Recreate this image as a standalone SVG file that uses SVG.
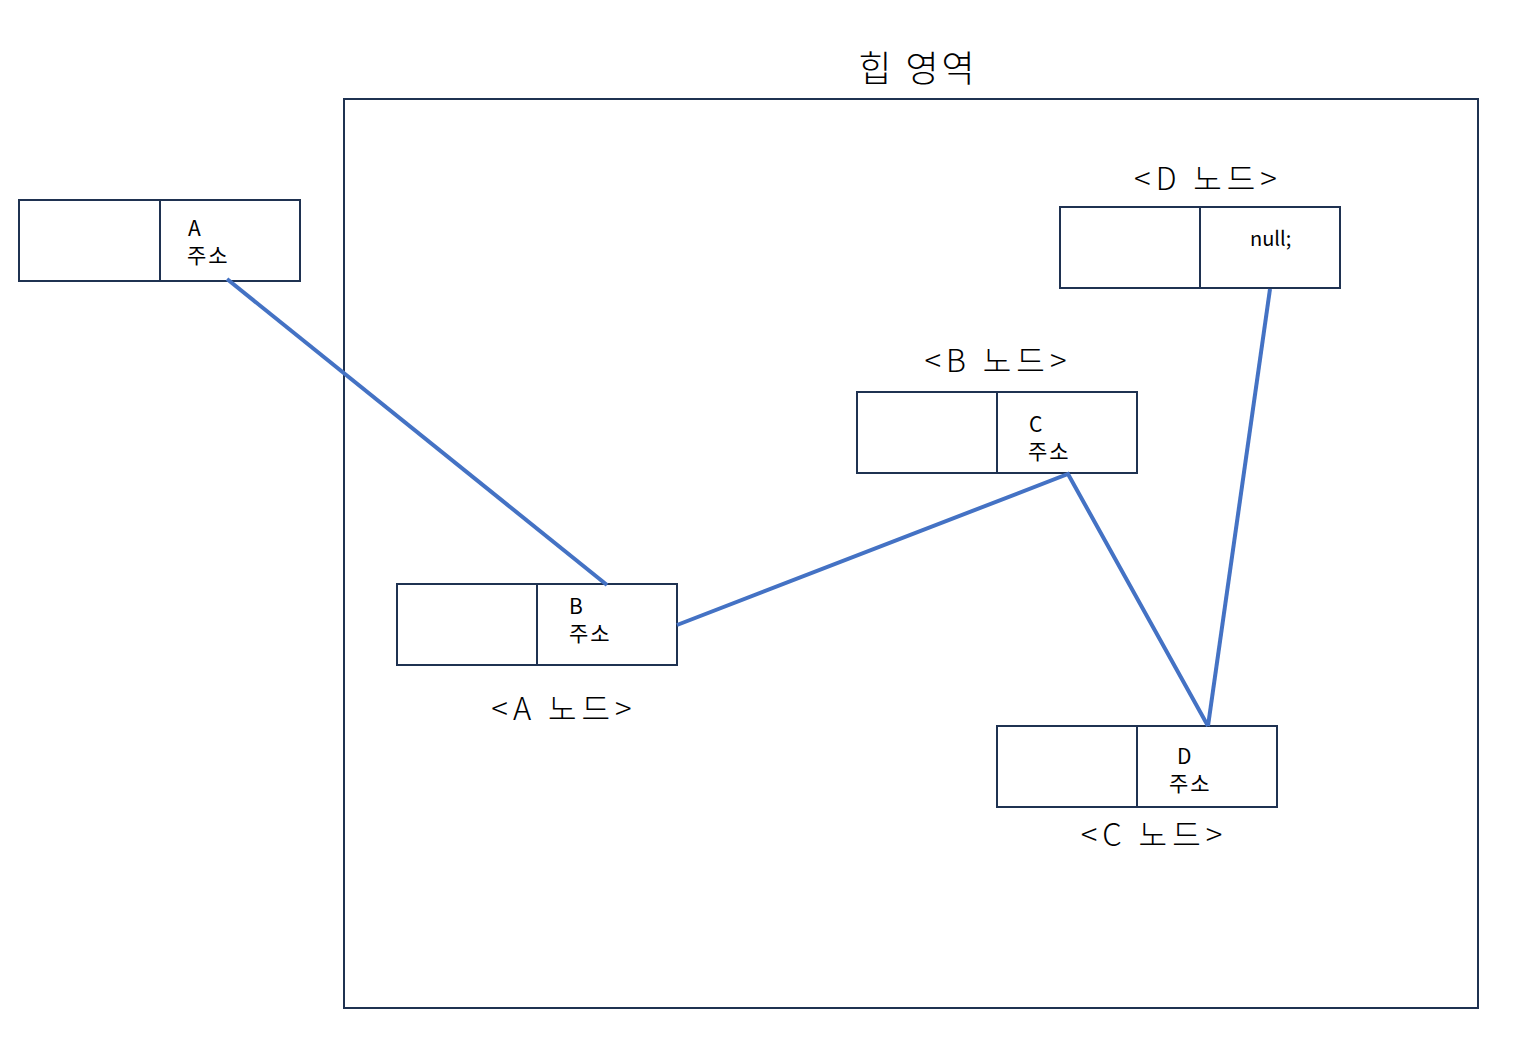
<svg xmlns="http://www.w3.org/2000/svg" width="1515" height="1043" viewBox="0 0 1515 1043">
<style>
.box{fill:#fff;stroke:#1f3251;stroke-width:2}
.div{stroke:#1f3251;stroke-width:2}
.t{font-family:"Noto Sans CJK KR","Noto Sans",sans-serif;font-size:21px;letter-spacing:2px;fill:#000}
.lbl{font-family:"Noto Sans CJK KR","Noto Sans",sans-serif;font-size:31px;letter-spacing:5px;fill:#000;text-anchor:middle;font-weight:300}
.c{stroke:#4472c4;stroke-width:4;fill:none}
</style>
<rect width="1515" height="1043" fill="#fff"/>
<g id="heap">
<rect x="344" y="99" width="1134" height="909" fill="none" stroke="#1f3251" stroke-width="2"/>
<text x="918" y="82" font-family="'Noto Sans CJK KR',sans-serif" font-size="36" font-weight="300" letter-spacing="3" text-anchor="middle" fill="#000">힙 영역</text>
</g>
<g id="ext">
<rect class="box" x="19" y="200" width="281" height="81"/>
<line class="div" x1="160" y1="200" x2="160" y2="281"/>
<text class="t" x="188" y="236">A</text>
<text class="t" x="187" y="263">주소</text>
</g>
<g id="nodeD">
<text class="lbl" x="1208" y="190">&lt;D 노드&gt;</text>
<rect class="box" x="1060" y="207" width="280" height="81"/>
<line class="div" x1="1200" y1="207" x2="1200" y2="288"/>
<text x="1250" y="246" font-family="'Noto Sans CJK KR',sans-serif" font-size="20" fill="#000">null;</text>
</g>
<g id="nodeB">
<text class="lbl" x="998" y="372">&lt;B 노드&gt;</text>
<rect class="box" x="857" y="392" width="280" height="81"/>
<line class="div" x1="997" y1="392" x2="997" y2="473"/>
<text class="t" x="1029" y="432">C</text>
<text class="t" x="1028" y="459">주소</text>
</g>
<g id="nodeA">
<rect class="box" x="397" y="584" width="280" height="81"/>
<line class="div" x1="537" y1="584" x2="537" y2="665"/>
<text class="t" x="569" y="614">B</text>
<text class="t" x="569" y="641">주소</text>
<text class="lbl" x="564" y="720">&lt;A 노드&gt;</text>
</g>
<g id="nodeC">
<rect class="box" x="997" y="726" width="280" height="81"/>
<line class="div" x1="1137" y1="726" x2="1137" y2="807"/>
<text class="t" x="1177" y="764">D</text>
<text class="t" x="1169" y="791">주소</text>
<text class="lbl" x="1154" y="846">&lt;C 노드&gt;</text>
</g>
<g id="connectors">
<line class="c" x1="227" y1="279" x2="607" y2="585"/>
<polyline class="c" points="677,625 1068,474 1208,726"/>
<line class="c" x1="1270" y1="289" x2="1208" y2="726"/>
</g>
</svg>
